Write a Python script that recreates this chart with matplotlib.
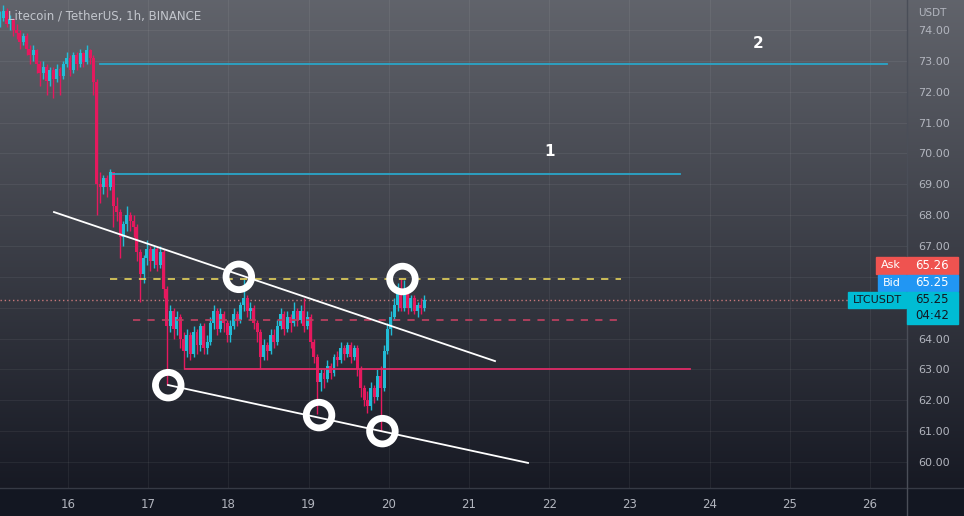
import numpy as np
import matplotlib
matplotlib.use("Agg")
import matplotlib.pyplot as plt
from matplotlib.patches import Rectangle

# LTC/USDT hourly candles, first bar at day 15.15
start_day = 15.15
opens = [74.3, 74.4, 74.6, 74.2, 74.35, 74.0, 73.9, 73.6, 73.8, 73.4,
         73.2, 73.35, 72.9, 72.6, 72.8, 72.35, 72.7, 72.4, 72.75, 72.5,
         72.9, 73.1, 72.7, 73.2, 72.9, 73.25, 72.95, 73.35, 73.1, 72.3,
         69.0, 68.9, 69.2, 68.9, 69.4, 68.3, 68.1, 67.3, 67.7, 68.0,
         67.8, 67.6, 66.8, 66.1, 66.6, 66.9, 66.5, 66.9, 66.4, 66.8,
         65.6, 64.4, 64.9, 64.3, 64.7, 64.0, 63.6, 64.1, 63.5, 64.2,
         63.8, 64.4, 63.7, 63.9, 64.5, 64.9, 64.3, 64.8, 64.5, 64.1,
         64.4, 64.8, 64.6, 65.1, 65.3, 64.9, 65.0, 64.5, 64.2, 63.4,
         63.8, 63.6, 64.1, 63.9, 64.4, 64.8, 64.3, 64.7, 64.5, 64.9,
         64.6, 64.9, 64.4, 64.7, 63.9, 63.4, 62.6, 62.9, 62.7, 63.1,
         62.9, 63.4, 63.3, 63.7, 63.5, 63.8, 63.4, 63.7, 63.0, 62.4,
         62.0, 61.8, 62.4, 62.1, 62.8, 62.4, 63.6, 64.3, 64.7, 65.1,
         65.6, 65.0, 65.5, 65.0, 65.3, 64.9, 65.1, 65.0]
highs = [74.6, 74.8, 74.7, 74.5, 74.4, 74.2, 74.0, 73.9, 73.9, 73.5,
         73.5, 73.4, 73.0, 73.0, 72.9, 72.8, 72.8, 72.9, 72.8, 73.0,
         73.3, 73.2, 73.3, 73.3, 73.4, 73.3, 73.5, 73.4, 73.2, 72.4,
         69.4, 69.3, 69.3, 69.5, 69.4, 68.6, 68.2, 67.8, 68.3, 68.1,
         68.0, 67.7, 66.9, 66.7, 67.2, 67.0, 67.0, 67.0, 67.0, 66.9,
         65.7, 65.1, 65.0, 64.9, 64.8, 64.2, 64.3, 64.2, 64.4, 64.3,
         64.5, 64.5, 64.1, 64.7, 65.1, 65.0, 65.0, 64.9, 64.6, 64.6,
         65.0, 64.9, 65.2, 65.95, 65.4, 65.2, 65.1, 64.6, 64.3, 64.0,
         63.9, 64.3, 64.3, 64.6, 65.0, 64.9, 64.9, 64.8, 65.2, 65.0,
         65.1, 65.3, 64.9, 64.8, 64.0, 63.5, 63.0, 63.0, 63.3, 63.2,
         63.5, 63.6, 63.9, 63.8, 63.9, 63.9, 63.8, 63.8, 63.1, 62.5,
         62.3, 62.6, 62.5, 63.0, 63.1, 63.8, 64.5, 64.9, 65.3, 65.8,
         65.95, 65.9, 65.6, 65.4, 65.4, 65.2, 65.3, 65.4]
lows = [74.1, 74.3, 74.1, 74.0, 73.8, 73.7, 73.4, 73.5, 73.2, 72.9,
        73.0, 72.6, 72.2, 72.4, 71.9, 72.2, 71.8, 72.3, 71.9, 72.4,
        72.8, 72.5, 72.6, 72.7, 72.8, 72.8, 72.9, 72.9, 71.9, 68.0,
        68.4, 68.7, 68.6, 68.8, 67.6, 67.8, 66.6, 67.0, 67.5, 67.5,
        67.3, 66.5, 65.2, 65.8, 66.4, 66.2, 66.3, 66.2, 66.3, 65.3,
        62.5, 64.2, 64.0, 64.1, 63.7, 63.0, 63.4, 63.3, 63.4, 63.5,
        63.6, 63.5, 63.5, 63.8, 64.3, 64.1, 64.2, 64.2, 63.9, 63.9,
        64.3, 64.4, 64.5, 64.9, 64.7, 64.6, 64.3, 63.9, 63.0, 63.3,
        63.3, 63.5, 63.7, 63.8, 64.3, 64.1, 64.2, 64.2, 64.4, 64.4,
        64.5, 64.2, 64.3, 63.7, 63.2, 61.55, 62.3, 62.4, 62.6, 62.7,
        62.8, 63.1, 63.2, 63.3, 63.4, 63.2, 63.3, 62.8, 62.1, 61.8,
        61.6, 61.7, 61.9, 62.0, 61.0, 62.3, 63.5, 64.1, 64.6, 64.9,
        64.9, 64.9, 64.8, 64.9, 64.8, 64.7, 64.8, 64.9]
closes = [74.4, 74.6, 74.2, 74.35, 74.0, 73.9, 73.6, 73.8, 73.4, 73.2,
          73.35, 72.9, 72.6, 72.8, 72.35, 72.7, 72.4, 72.75, 72.5, 72.9,
          73.1, 72.7, 73.2, 72.9, 73.25, 72.95, 73.35, 73.1, 72.3, 69.0,
          68.9, 69.2, 68.9, 69.4, 68.3, 68.1, 67.3, 67.7, 68.0, 67.8,
          67.6, 66.8, 66.1, 66.6, 66.9, 66.5, 66.9, 66.4, 66.8, 65.6,
          64.4, 64.9, 64.3, 64.7, 64.0, 63.6, 64.1, 63.5, 64.2, 63.8,
          64.4, 63.7, 63.9, 64.5, 64.9, 64.3, 64.8, 64.5, 64.1, 64.4,
          64.8, 64.6, 65.1, 65.3, 64.9, 65.0, 64.5, 64.2, 63.4, 63.8,
          63.6, 64.1, 63.9, 64.4, 64.8, 64.3, 64.7, 64.5, 64.9, 64.6,
          64.9, 64.4, 64.7, 63.9, 63.4, 62.6, 62.9, 62.7, 63.1, 62.9,
          63.4, 63.3, 63.7, 63.5, 63.8, 63.4, 63.7, 63.0, 62.4, 62.0,
          61.8, 62.4, 62.1, 62.8, 62.4, 63.6, 64.3, 64.7, 65.1, 65.6,
          65.0, 65.5, 65.0, 65.3, 64.9, 65.1, 65.0, 65.25]

# drawings on the chart
level_2 = (72.90, 16.40, 26.21)
level_1 = (69.33, 16.56, 23.63)
yellow_level = (65.93, 16.52, 22.90)
pink_dashed = (64.60, 16.81, 22.92)
support = (63.01, 17.46, 23.76)
upper_trend_x, upper_trend_y = [15.825, 21.324], [68.10, 63.27]
lower_trend_x, lower_trend_y = [17.247, 21.736], [62.495, 59.97]
ring_days = [17.25, 18.13, 19.13, 19.92, 20.17]
ring_prices = [62.49, 66.0, 61.52, 61.0, 65.93]
ask, bid, last, countdown = 65.26, 65.25, 65.25, "04:42"

UP, DOWN = "#22bcd6", "#e5195e"
W, H = 964, 516

fig = plt.figure(figsize=(W / 100, H / 100), dpi=100)

# background gradient + axis separators (pixel coords)
bg = fig.add_axes([0, 0, 1, 1])
bg.set_xlim(0, W)
bg.set_ylim(H, 0)
bg.axis("off")
t = np.linspace(0, 1, 256)[:, None, None]
top_c = np.array([0.38, 0.39, 0.42])
bot_c = np.array([0.09, 0.10, 0.14])
bg.imshow(top_c + (bot_c - top_c) * t, extent=[0, W, 488, 0], aspect="auto")
bg.add_patch(Rectangle((0, 488), W, H - 488, color="#131722"))
bg.axhline(488, color="#363a45", lw=1)
bg.axvline(907, color="#4a4e58", lw=1)

ax = fig.add_axes([0, 28 / H, 907 / W, 488 / H])
ax.set_facecolor("none")
ax.set_xlim(15.152, 26.461)
ax.set_ylim(59.157, 74.972)
for s in ax.spines.values():
    s.set_visible(False)
ax.grid(True, color="white", alpha=0.06, lw=0.8)
ax.set_axisbelow(True)

# candles
days = start_day + np.arange(len(closes)) / 24
o = np.array(opens)
c = np.array(closes)
colors = np.where(c >= o, UP, DOWN)
ax.vlines(days, lows, highs, colors=colors, lw=1.0, zorder=2)
body = np.maximum(np.abs(c - o), 0.05)
ax.bar(days, body, bottom=np.minimum(o, c), width=0.037, color=colors,
       linewidth=0, zorder=3)

# last price dotted line
ax.axhline(last, color="#c8787a", lw=1, ls=(0, (1, 2)), zorder=1)

# horizontal levels
for (lvl, x0, x1), col, ls in [(level_2, "#2aa6c9", "-"), (level_1, "#2aa6c9", "-"),
                               (yellow_level, "#d8c75a", (0, (4, 4))),
                               (pink_dashed, "#b8405f", (0, (4, 4))),
                               (support, "#df2a66", "-")]:
    ax.plot([x0, x1], [lvl, lvl], color=col, lw=1.3, ls=ls, zorder=4)

ax.text(24.60, 73.55, "2", color="white", fontsize=11, fontweight="bold",
        ha="center", va="center")
ax.text(22.01, 70.05, "1", color="white", fontsize=11, fontweight="bold",
        ha="center", va="center")

# trend lines
ax.plot(upper_trend_x, upper_trend_y, color="white", lw=1.3, zorder=5)
ax.plot(lower_trend_x, lower_trend_y, color="white", lw=1.3, zorder=5)

# rings
ax.scatter(ring_days, ring_prices, s=340, facecolors="none", edgecolors="white",
           linewidths=4.9, zorder=6)

# axes ticks
ax.yaxis.tick_right()
yt = list(range(60, 75))
ax.set_yticks(yt)
ax.set_yticklabels(["" if v in (65, 66) else f"{v:.2f}" for v in yt])
ax.set_xticks(range(16, 27))
ax.set_xticklabels([str(d) for d in range(16, 27)])
ax.tick_params(axis="y", length=0, pad=8, labelcolor="#b2b5be", labelsize=8)
ax.tick_params(axis="x", length=0, pad=7, labelcolor="#b2b5be", labelsize=8.5)

fig.text(918 / W, 1 - 13 / H, "USDT", color="#b2b5be", fontsize=7.5, va="center")
fig.text(8 / W, 1 - 16 / H, "Litecoin / TetherUS, 1h, BINANCE", color="#c3c6cd",
         fontsize=8.5, va="center")

# price tags on the right
ppx = (74.972 - 59.157) / 488  # price units per pixel
tr = ax.get_yaxis_transform()
lc = last  # tag centred on last price
tags = [("Ask", f"{ask:.2f}", "#ef5350", "white", lc + 34.5 * ppx, 876),
        ("Bid", f"{bid:.2f}", "#2196f3", "white", lc + 17 * ppx, 878),
        ("LTCUSDT", f"{last:.2f}", "#00bcd4", "#131722", lc, 848)]
for name, val, col, tcol, yc, xl in tags:
    h = 16.5 * ppx
    x0 = xl / 907
    ax.add_patch(Rectangle((x0, yc - h / 2), 906 / 907 - x0, h, transform=tr,
                           color=col, clip_on=False, zorder=7))
    ax.text((xl + 906) / 2 / 907, yc, name, transform=tr, color=tcol, fontsize=8,
            ha="center", va="center", clip_on=False, zorder=8)
    box_h = h if name != "LTCUSDT" else 32 * ppx
    ax.add_patch(Rectangle((907 / 907, yc + h / 2 - box_h), 51 / 907, box_h,
                           transform=tr, color=col, clip_on=False, zorder=7))
    ax.text(932 / 907, yc, val, transform=tr, color=tcol, fontsize=8.5,
            ha="center", va="center", clip_on=False, zorder=8)
ax.text(932 / 907, lc - 16 * ppx, countdown, transform=tr, color="#131722",
        fontsize=8.5, ha="center", va="center", clip_on=False, zorder=8)

fig.savefig("out.png", dpi=100)
